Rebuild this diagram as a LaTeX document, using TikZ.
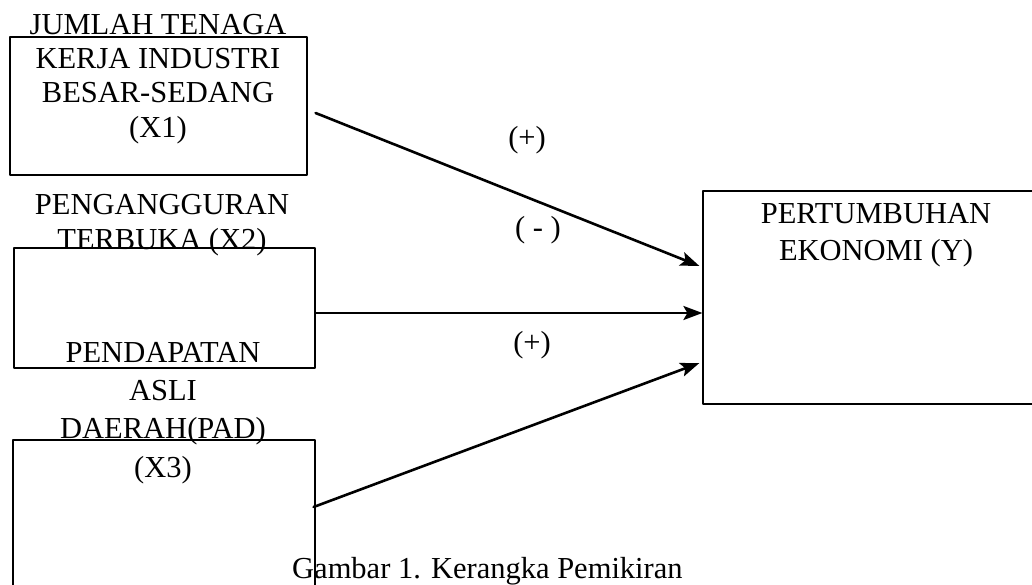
\documentclass[tikz,border=0pt]{standalone}
\usepackage{fontspec}
\setmainfont{Liberation Serif}
\usetikzlibrary{arrows.meta,positioning}
\tikzset{
  varbox/.style={rectangle,draw,line width=1.2pt,inner sep=0pt},
  varlabel/.style={align=center,inner sep=0pt,font=\fontsize{30.5}{35}\selectfont},
  signlabel/.style={inner sep=0pt,font=\fontsize{30.5}{35}\selectfont},
  effect/.style={line width=2.6pt,-{Stealth[length=19pt,width=14pt,inset=4pt]}},
  every picture/.style={line cap=round,line join=round}
}
\begin{document}
\begin{tikzpicture}[x=1pt,y=-1pt]
    \clip (0,0) rectangle (1032,585);
    \node[varbox,minimum width=297pt,minimum height=138pt] (x1) at (158.5,106) {};
    \node[varbox,minimum width=301pt,minimum height=120pt] (x2) at (164.5,308) {};
    \node[varbox,minimum width=302pt,minimum height=180pt] (x3) at (164,530) {};
    \node[varbox,minimum width=342pt,minimum height=213pt] (y) at (874,297.5) {};
    \node[varlabel,font=\fontsize{30.5}{34.3}\selectfont] (x1text) at (158,79) {JUMLAH TENAGA\\KERJA INDUSTRI\\BESAR-SEDANG\\(X1)};
    \node[varlabel] (x2text) at (162,225) {PENGANGGURAN\\TERBUKA (X2)};
    \node[varlabel,font=\fontsize{30.5}{38.3}\selectfont] (x3text) at (163,413) {PENDAPATAN\\ASLI\\DAERAH(PAD)\\(X3)};
    \node[varlabel,font=\fontsize{30.5}{37}\selectfont] (ytext) at (876,235) {PERTUMBUHAN\\EKONOMI (Y)};
    \node[signlabel] (s1) at (527,140) {(+)};
    \node[signlabel] (s2) at (538,230) {( - )};
    \node[signlabel] (s3) at (532,345) {(+)};
    \draw[effect] ([xshift=8pt,yshift=-7pt]x1.east) -- ([xshift=-3pt,yshift=31.5pt]y.west);
    \draw[effect] ([yshift=-5pt]x2.east) -- ([yshift=-15.5pt]y.west);
    \draw[effect] ([xshift=-2pt,yshift=23pt]x3.east) -- ([xshift=-3pt,yshift=-65.5pt]y.west);
    \node[signlabel,anchor=base west] (caption) at (292,578) {Gambar 1. Kerangka Pemikiran};
\end{tikzpicture}
\end{document}
